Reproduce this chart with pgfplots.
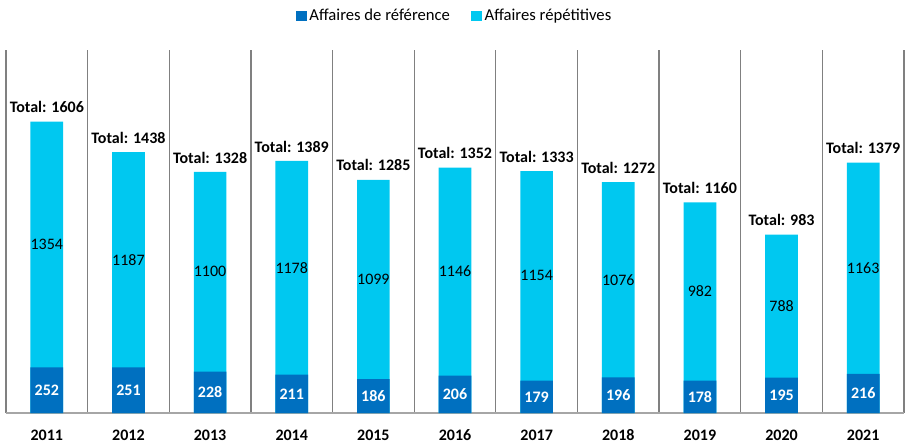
\documentclass[border=0pt]{standalone}
\usepackage{fontspec}
\setmainfont{Carlito}
\usepackage{pgfplots}
\pgfplotsset{compat=1.18}
\usepackage{pgfplotstable}

\definecolor{ref}{HTML}{0070C0}
\definecolor{rep}{HTML}{00C8F0}
\definecolor{sep}{HTML}{808080}

\pgfplotstableread{
x ref rep total
0 252 1354 1606
1 251 1187 1438
2 228 1100 1328
3 211 1178 1389
4 186 1099 1285
5 206 1146 1352
6 179 1154 1333
7 196 1076 1272
8 178 982 1160
9 195 788 983
10 216 1163 1379
}\data

\begin{document}
\begin{tikzpicture}
\path[use as bounding box] (-4.5pt,-22.5pt) rectangle (677.25pt,309.75pt);
\begin{axis}[
  scale only axis,
  width=673.5pt, height=272.25pt,
  xmin=-0.5, xmax=10.5, ymin=0, ymax=2000,
  enlargelimits=false,
  axis x line*=bottom, axis y line=none,
  x axis line style={draw=sep!70, line width=0.9pt, -},
  xtick={0,...,10},
  xticklabels={2011,2012,2013,2014,2015,2016,2017,2018,2019,2020,2021},
  xticklabel style={font=\fontsize{12}{14}\selectfont\bfseries,
    text height=9pt, text depth=0pt, yshift=-8pt},
  major tick length=0pt, minor tick length=0pt,
  minor xtick={-0.5,0.5,...,10.5},
  xminorgrids=true,
  minor grid style={draw=sep, line width=1pt},
  clip=false,
  legend style={at={(0.5,1)}, anchor=center, yshift=25.5pt, draw=none,
    font=\fontsize{12.5}{14}\selectfont},
  legend columns=2,
  reverse legend,
  legend cell align=left,
  /tikz/every even column/.append style={column sep=14pt},
  legend image code/.code={\fill[#1] (0pt,-4pt) rectangle (8pt,4pt);},
  point meta=explicit symbolic,
]
% stacked bars: cyan to the total, dark blue over its lower part
\addplot[ybar, bar width=24.5pt, bar shift=0pt, draw=none, fill=rep]
  table[x=x, y=total] {\data};
\addlegendentry{Affaires répétitives}
\addplot[ybar, bar width=24.5pt, bar shift=0pt, draw=none, fill=ref]
  table[x=x, y=ref] {\data};
\addlegendentry{Affaires de référence}
% segment labels
\addplot[draw=none, mark=none, forget plot,
  nodes near coords,
  every node near coord/.append style={text=white, anchor=center,
    font=\fontsize{12}{14}\selectfont\bfseries}]
  table[x=x, y expr=\thisrow{ref}/2, meta=ref] {\data};
\addplot[draw=none, mark=none, forget plot,
  nodes near coords,
  every node near coord/.append style={text=black, anchor=center,
    font=\fontsize{12}{14}\selectfont}]
  table[x=x, y expr=\thisrow{ref}+\thisrow{rep}/2, meta=rep] {\data};
\addplot[draw=none, mark=none, forget plot,
  nodes near coords={Total: \pgfplotspointmeta},
  every node near coord/.append style={text=black, anchor=south, yshift=3pt,
    font=\fontsize{12}{14}\selectfont\bfseries}]
  table[x=x, y=total, meta=total] {\data};
\end{axis}
\end{tikzpicture}
\end{document}
